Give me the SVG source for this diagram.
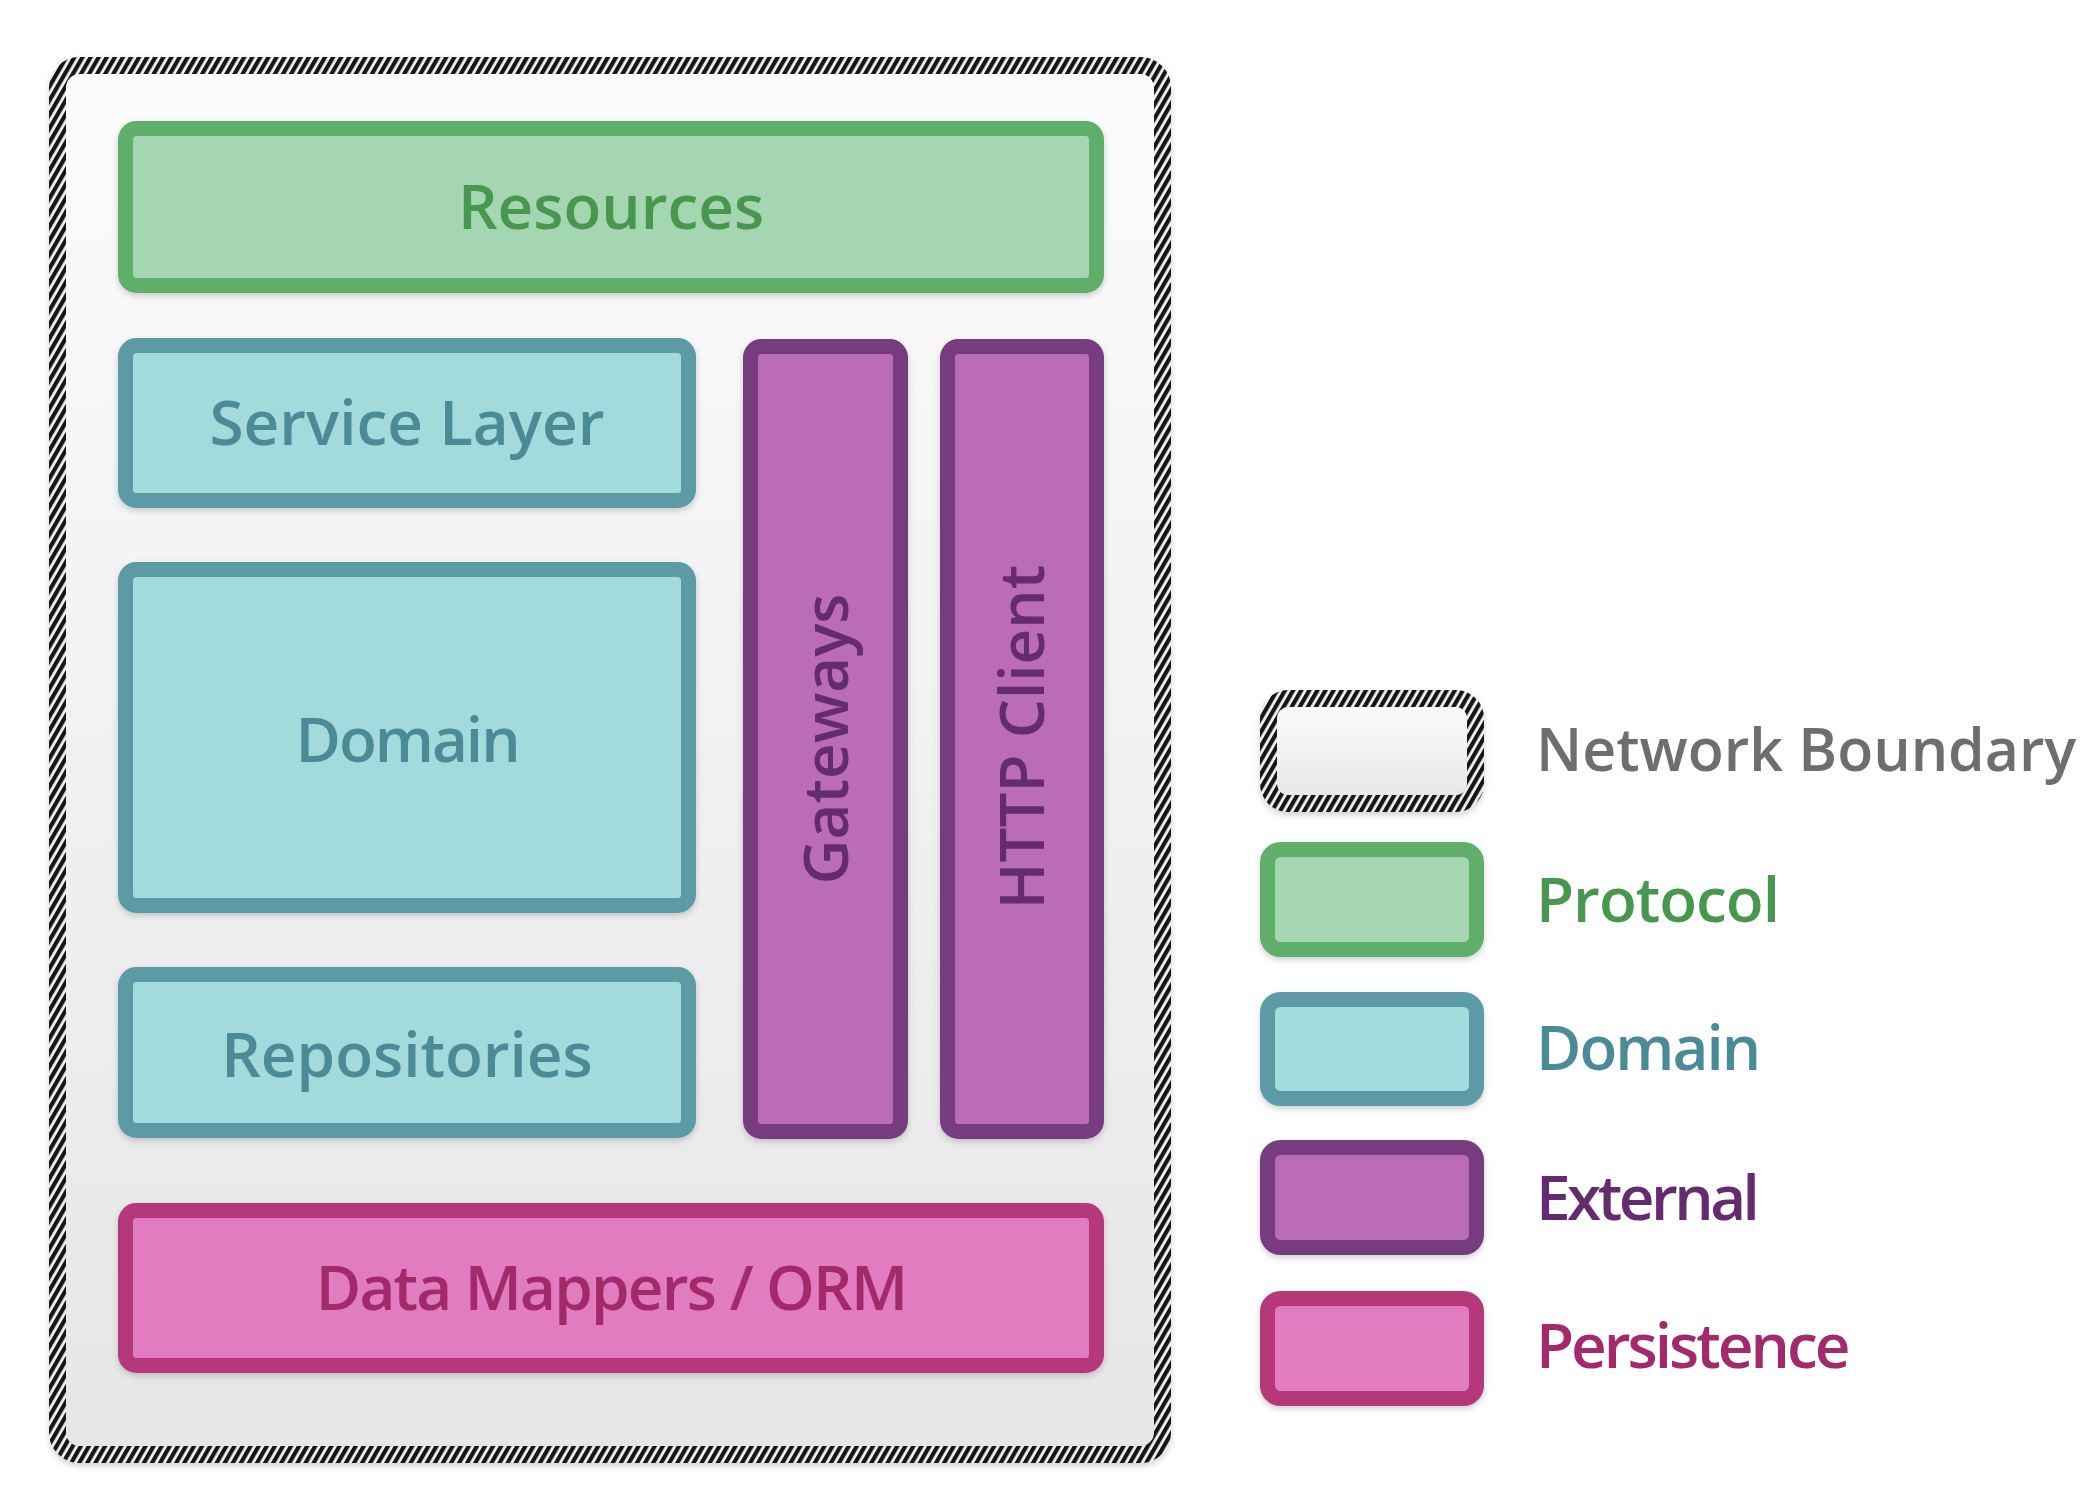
<svg xmlns="http://www.w3.org/2000/svg" width="2092" height="1494" viewBox="0 0 2092 1494">
  <defs>
    <pattern id="hatch" patternUnits="userSpaceOnUse" width="7" height="7" patternTransform="rotate(30)">
      <rect width="7" height="7" fill="#f4f4f4"/>
      <rect width="4.2" height="7" fill="#151515"/>
    </pattern>
    <linearGradient id="bgGrad" x1="0" y1="0" x2="0" y2="1">
      <stop offset="0" stop-color="#fcfcfc"/>
      <stop offset="1" stop-color="#e6e6e6"/>
    </linearGradient>
    <filter id="shadow" x="-10%" y="-10%" width="120%" height="130%">
      <feDropShadow dx="0" dy="3" stdDeviation="3" flood-color="#000" flood-opacity="0.18"/>
    </filter>
  </defs>
  <style>
    .lbl { font-family: "Open Sans", "Noto Sans", "Liberation Sans", sans-serif; font-weight: 600; font-size: 62px; }
    .boundary { fill: url(#bgGrad); stroke: url(#hatch); stroke-width: 17; }
    .protocol { fill: #a4d7b1; stroke: #5fae69; stroke-width: 15; }
    .domain { fill: #a3dadb; stroke: #5b9ba6; stroke-width: 15; }
    .external { fill: #bb6cb6; stroke: #773a80; stroke-width: 15; }
    .persist { fill: #e07bbf; stroke: #b5387a; stroke-width: 15; }
    .t-protocol { fill: #48964f; }
    .t-domain { fill: #4a8b97; }
    .t-external { fill: #642b6e; }
    .t-persist { fill: #a22a6a; }
    .t-boundary { fill: #6e6e6e; }
  </style>

  <rect width="2092" height="1494" fill="#ffffff"/>

  <g id="network-boundary">
    <rect class="boundary" x="57.5" y="65.5" width="1105" height="1389" rx="22" filter="url(#shadow)"/>
  </g>

  <g id="resources">
    <rect class="protocol" x="125.5" y="128.5" width="971" height="157" rx="11" filter="url(#shadow)"/>
    <text class="lbl t-protocol" x="611" y="229" text-anchor="middle">Resources</text>
  </g>

  <g id="service-layer">
    <rect class="domain" x="125.5" y="345.5" width="563" height="155" rx="11" filter="url(#shadow)"/>
    <text class="lbl t-domain" x="407" y="445" text-anchor="middle">Service Layer</text>
  </g>

  <g id="domain">
    <rect class="domain" x="125.5" y="569.5" width="563" height="336" rx="11" filter="url(#shadow)"/>
    <text class="lbl t-domain" x="407" y="762" text-anchor="middle" letter-spacing="-2">Domain</text>
  </g>

  <g id="repositories">
    <rect class="domain" x="125.5" y="974.5" width="563" height="156" rx="11" filter="url(#shadow)"/>
    <text class="lbl t-domain" x="407" y="1077" text-anchor="middle">Repositories</text>
  </g>

  <g id="gateways">
    <rect class="external" x="750.5" y="346.5" width="150" height="785" rx="11" filter="url(#shadow)"/>
    <text class="lbl t-external" transform="translate(848,739) rotate(-90)" x="0" y="0" text-anchor="middle">Gateways</text>
  </g>

  <g id="http-client">
    <rect class="external" x="947.5" y="346.5" width="149" height="785" rx="11" filter="url(#shadow)"/>
    <text class="lbl t-external" transform="translate(1044,737) rotate(-90)" x="0" y="0" text-anchor="middle">HTTP Client</text>
  </g>

  <g id="data-mappers">
    <rect class="persist" x="125.5" y="1210.5" width="971" height="155" rx="11" filter="url(#shadow)"/>
    <text class="lbl t-persist" x="611" y="1310" text-anchor="middle" letter-spacing="-1.8">Data Mappers / ORM</text>
  </g>

  <g id="connectors"></g>

  <g id="legend">
    <g id="legend-boundary">
      <rect class="boundary" x="1268.5" y="698.5" width="207" height="105" rx="20" filter="url(#shadow)"/>
      <text class="lbl t-boundary" x="1536" y="771" style="font-size:59px">Network Boundary</text>
    </g>
    <g id="legend-protocol">
      <rect class="protocol" x="1267.5" y="849.5" width="209" height="100" rx="13" filter="url(#shadow)"/>
      <text class="lbl t-protocol" x="1536" y="922" letter-spacing="-1">Protocol</text>
    </g>
    <g id="legend-domain">
      <rect class="domain" x="1267.5" y="999.5" width="209" height="99" rx="13" filter="url(#shadow)"/>
      <text class="lbl t-domain" x="1536" y="1070" letter-spacing="-2">Domain</text>
    </g>
    <g id="legend-external">
      <rect class="external" x="1267.5" y="1147.5" width="209" height="100" rx="13" filter="url(#shadow)"/>
      <text class="lbl t-external" x="1536" y="1220" letter-spacing="-3.5">External</text>
    </g>
    <g id="legend-persistence">
      <rect class="persist" x="1267.5" y="1298.5" width="209" height="100" rx="13" filter="url(#shadow)"/>
      <text class="lbl t-persist" x="1536" y="1368" letter-spacing="-3">Persistence</text>
    </g>
  </g>
</svg>
